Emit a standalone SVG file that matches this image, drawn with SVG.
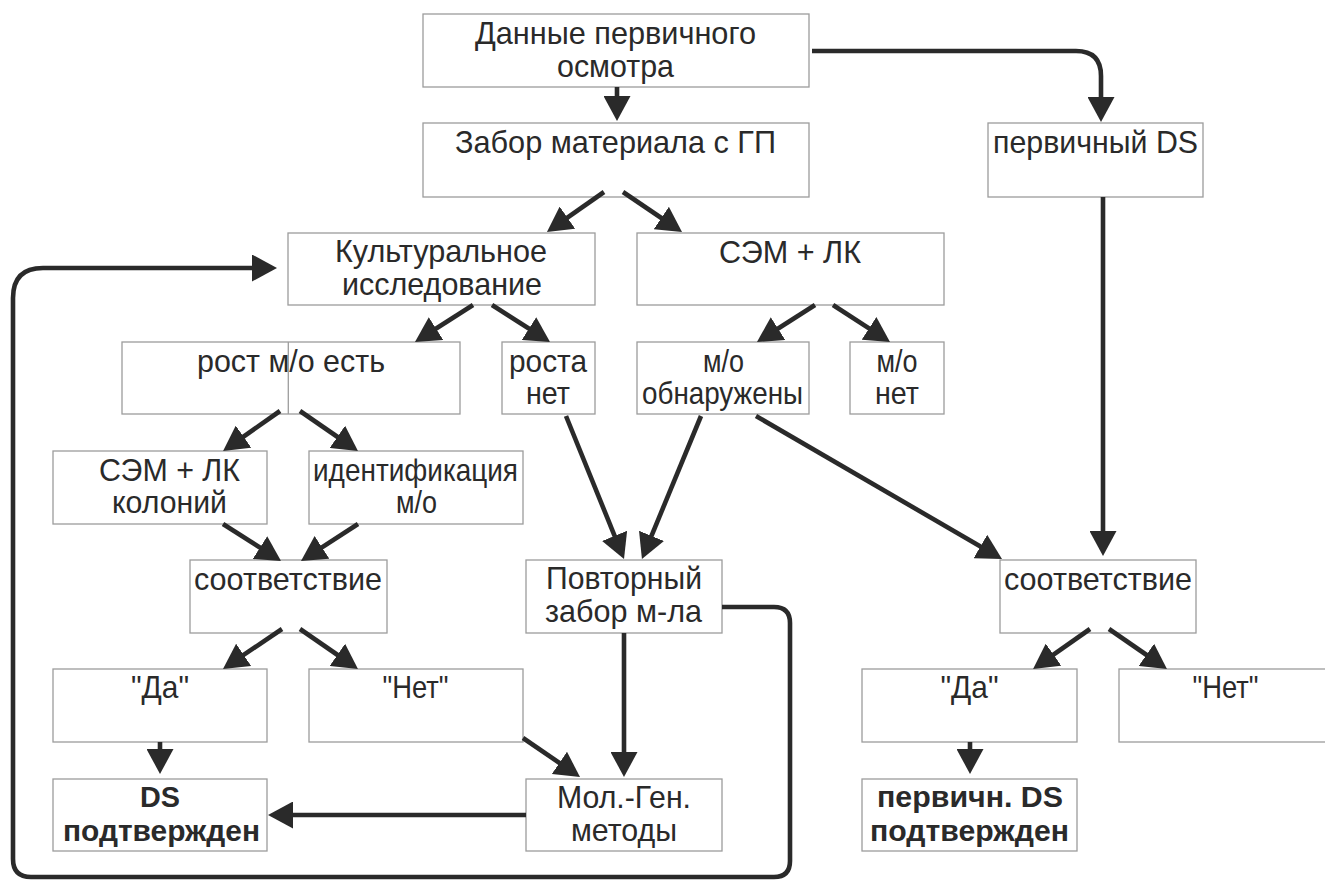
<svg xmlns="http://www.w3.org/2000/svg" width="1325" height="881" viewBox="0 0 1325 881">
<style>
.box{fill:#fff;stroke:#9c9c9c;stroke-width:1.3}
.t{font-family:"Liberation Sans",Arial,sans-serif;font-size:30.5px;fill:#2a2a2a;text-anchor:middle}
.b{font-weight:bold;font-size:30px}
.c{fill:none;stroke:#2a2a2a;stroke-width:4.6;marker-end:url(#ah)}
</style>
<defs>
<marker id="ah" viewBox="0 0 25 27" refX="17" refY="13.5" markerWidth="25" markerHeight="27" markerUnits="userSpaceOnUse" orient="auto">
<path d="M0,0 L25,13.5 L0,27 Z" fill="#2a2a2a"/>
</marker>
</defs>
<rect width="1325" height="881" fill="#fff"/>
<g id="n1"><rect class="box" x="423" y="14" width="386" height="73"/><text class="t" x="615.5" y="44" textLength="281" lengthAdjust="spacingAndGlyphs">Данные первичного</text><text class="t" x="615.5" y="77" textLength="117" lengthAdjust="spacingAndGlyphs">осмотра</text></g>
<g id="n2"><rect class="box" x="423" y="123" width="386" height="74"/><text class="t" x="615.5" y="153" textLength="321" lengthAdjust="spacingAndGlyphs">Забор материала с ГП</text></g>
<g id="n3"><rect class="box" x="988" y="123" width="215" height="74"/><text class="t" x="1095.5" y="153" textLength="205" lengthAdjust="spacingAndGlyphs">первичный DS</text></g>
<g id="n4"><rect class="box" x="288" y="233" width="307" height="72"/><text class="t" x="441" y="262" textLength="212" lengthAdjust="spacingAndGlyphs">Культуральное</text><text class="t" x="442" y="295" textLength="200" lengthAdjust="spacingAndGlyphs">исследование</text></g>
<g id="n5"><rect class="box" x="637" y="233" width="307" height="72"/><text class="t" x="790" y="263" textLength="142" lengthAdjust="spacingAndGlyphs">СЭМ + ЛК</text></g>
<g id="n6"><rect class="box" x="122" y="342" width="338" height="72"/><line x1="288.3" y1="342" x2="288.3" y2="414" stroke="#9c9c9c" stroke-width="1.3"/><text class="t" x="291" y="372" textLength="188" lengthAdjust="spacingAndGlyphs">рост м/о есть</text></g>
<g id="n7"><rect class="box" x="502" y="342" width="93" height="72"/><text class="t" x="548" y="372" textLength="78" lengthAdjust="spacingAndGlyphs">роста</text><text class="t" x="548" y="404" textLength="44" lengthAdjust="spacingAndGlyphs">нет</text></g>
<g id="n8"><rect class="box" x="637" y="342" width="172" height="72"/><text class="t" x="723.5" y="372" textLength="41" lengthAdjust="spacingAndGlyphs">м/о</text><text class="t" x="722.5" y="404" textLength="161" lengthAdjust="spacingAndGlyphs">обнаружены</text></g>
<g id="n9"><rect class="box" x="850" y="342" width="94" height="72"/><text class="t" x="897" y="372" textLength="41" lengthAdjust="spacingAndGlyphs">м/о</text><text class="t" x="897" y="404" textLength="44" lengthAdjust="spacingAndGlyphs">нет</text></g>
<g id="n10"><rect class="box" x="53" y="451" width="214" height="73"/><text class="t" x="169.5" y="481" textLength="141" lengthAdjust="spacingAndGlyphs">СЭМ + ЛК</text><text class="t" x="169.5" y="513" textLength="115" lengthAdjust="spacingAndGlyphs">колоний</text></g>
<g id="n11"><rect class="box" x="309" y="451" width="214" height="73"/><text class="t" x="415.5" y="481" textLength="205" lengthAdjust="spacingAndGlyphs">идентификация</text><text class="t" x="416.5" y="513" textLength="41" lengthAdjust="spacingAndGlyphs">м/о</text></g>
<g id="n12"><rect class="box" x="190" y="560" width="197" height="73"/><text class="t" x="288" y="590" textLength="188" lengthAdjust="spacingAndGlyphs">соответствие</text></g>
<g id="n13"><rect class="box" x="526" y="560" width="196" height="73"/><text class="t" x="624" y="589" textLength="156" lengthAdjust="spacingAndGlyphs">Повторный</text><text class="t" x="623.5" y="622" textLength="157" lengthAdjust="spacingAndGlyphs">забор м-ла</text></g>
<g id="n14"><rect class="box" x="1000" y="560" width="196" height="73"/><text class="t" x="1098" y="590" textLength="188" lengthAdjust="spacingAndGlyphs">соответствие</text></g>
<g id="n15"><rect class="box" x="53" y="669" width="214" height="73"/><text class="t" x="160" y="698" textLength="58" lengthAdjust="spacingAndGlyphs">"Да"</text></g>
<g id="n16"><rect class="box" x="309" y="669" width="214" height="73"/><text class="t" x="415.5" y="698" textLength="66" lengthAdjust="spacingAndGlyphs">"Нет"</text></g>
<g id="n17"><rect class="box" x="862" y="669" width="215" height="73"/><text class="t" x="969.5" y="698" textLength="58" lengthAdjust="spacingAndGlyphs">"Да"</text></g>
<g id="n18"><rect class="box" x="1119" y="669" width="215" height="73"/><text class="t" x="1225.5" y="698" textLength="66" lengthAdjust="spacingAndGlyphs">"Нет"</text></g>
<g id="n19"><rect class="box" x="53" y="779" width="214" height="72"/><text class="t b" x="160" y="807" textLength="40" lengthAdjust="spacingAndGlyphs">DS</text><text class="t b" x="161.5" y="841" textLength="197" lengthAdjust="spacingAndGlyphs">подтвержден</text></g>
<g id="n20"><rect class="box" x="526" y="779" width="196" height="72"/><text class="t" x="624" y="808" textLength="134" lengthAdjust="spacingAndGlyphs">Мол.-Ген.</text><text class="t" x="624" y="841" textLength="106" lengthAdjust="spacingAndGlyphs">методы</text></g>
<g id="n21"><rect class="box" x="862" y="779" width="215" height="72"/><text class="t b" x="970" y="807" textLength="186" lengthAdjust="spacingAndGlyphs">первичн. DS</text><text class="t b" x="969.5" y="841" textLength="199" lengthAdjust="spacingAndGlyphs">подтвержден</text></g>
<g id="connectors">
<path class="c" d="M617,87 V113"/>
<path class="c" d="M812,51 H1076 Q1101,51 1101,76 V114"/>
<path class="c" d="M604,192 L553.5,227.4"/>
<path class="c" d="M623,192 L675.4,227.5"/>
<path class="c" d="M473,305 L421.7,337.7"/>
<path class="c" d="M492,305 L543.3,337.7"/>
<path class="c" d="M815,305 L763.7,337.7"/>
<path class="c" d="M833,305 L883.3,337.6"/>
<path class="c" d="M280,411 L229.6,446.4"/>
<path class="c" d="M300,411 L351.4,446.5"/>
<path class="c" d="M223,524 L274.3,556.7"/>
<path class="c" d="M358,524 L307.7,556.6"/>
<path class="c" d="M566,416 L621,551.6"/>
<path class="c" d="M701,416 L645,551.6"/>
<path class="c" d="M756,416 L995.1,555"/>
<path class="c" d="M1103,197 V548"/>
<path class="c" d="M282,629 L229.6,664.4"/>
<path class="c" d="M300,629 L351.4,664.5"/>
<path class="c" d="M160,742 V766"/>
<path class="c" d="M526,815 H276"/>
<path class="c" d="M523,738 L573.4,772.5"/>
<path class="c" d="M624,633 V769"/>
<path class="c" d="M1090,629 L1039.6,664.4"/>
<path class="c" d="M1109,629 L1160.4,664.5"/>
<path class="c" d="M970,742 V766"/>
<path class="c" d="M722,607 H774 Q790,607 790,623 V861 Q790,877 774,877 H31 Q13,877 13,859 V298 Q13,268 43,268 H269"/>
</g>
</svg>
